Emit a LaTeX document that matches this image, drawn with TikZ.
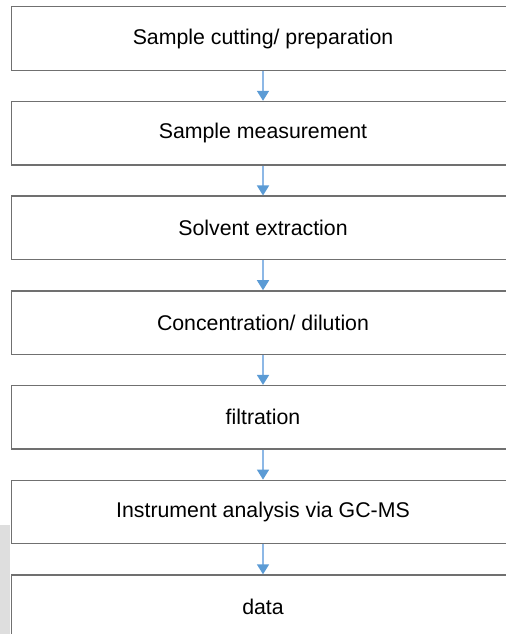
\documentclass[tikz,border=0pt]{standalone}
\usepackage{fontspec}
\setmainfont{Liberation Sans}
\usetikzlibrary{arrows.meta}
\definecolor{boxgray}{HTML}{707070}
\definecolor{linkblue}{HTML}{8DB8E6}
\definecolor{tipblue}{HTML}{5B9BD5}
\definecolor{sidegray}{HTML}{DEDEDE}
\tikzset{
  stepbox/.style={draw=boxgray, line width=1.3bp, minimum width=503bp, minimum height=63.5bp, inner sep=0pt, font=\fontsize{21.3bp}{25bp}\selectfont},
  link/.style={draw=linkblue, line width=1.6bp, -{Triangle[width=12bp,length=10bp,color=tipblue]}}
}

\begin{document}
\begin{tikzpicture}[x=1bp,y=-1bp]
		%%%%% START %%%%%
		
		\useasboundingbox (0,0) rectangle (506,634);
		\clip (0,0) rectangle (506,634);
		\fill[sidegray] (0,525) rectangle (10,634);
		
		\node[stepbox] (cut) at (263,38.5) {Sample cutting/ preparation};
		\node[stepbox] (meas) at (263,133.2) {Sample measurement};
		\node[stepbox] (extr) at (263,227.9) {Solvent extraction};
		\node[stepbox] (conc) at (263,322.6) {Concentration/ dilution};
		\node[stepbox] (filt) at (263,417.3) {filtration};
		\node[stepbox] (gcms) at (263,512) {Instrument analysis via GC-MS};
		\node[stepbox] (data) at (263,606.7) {data};
		
		\draw[link] (cut) -- (meas);
		\draw[link] (meas) -- (extr);
		\draw[link] (extr) -- (conc);
		\draw[link] (conc) -- (filt);
		\draw[link] (filt) -- (gcms);
		\draw[link] (gcms) -- (data);
		
		%%%%% END %%%%%
	\end{tikzpicture}
\end{document}
